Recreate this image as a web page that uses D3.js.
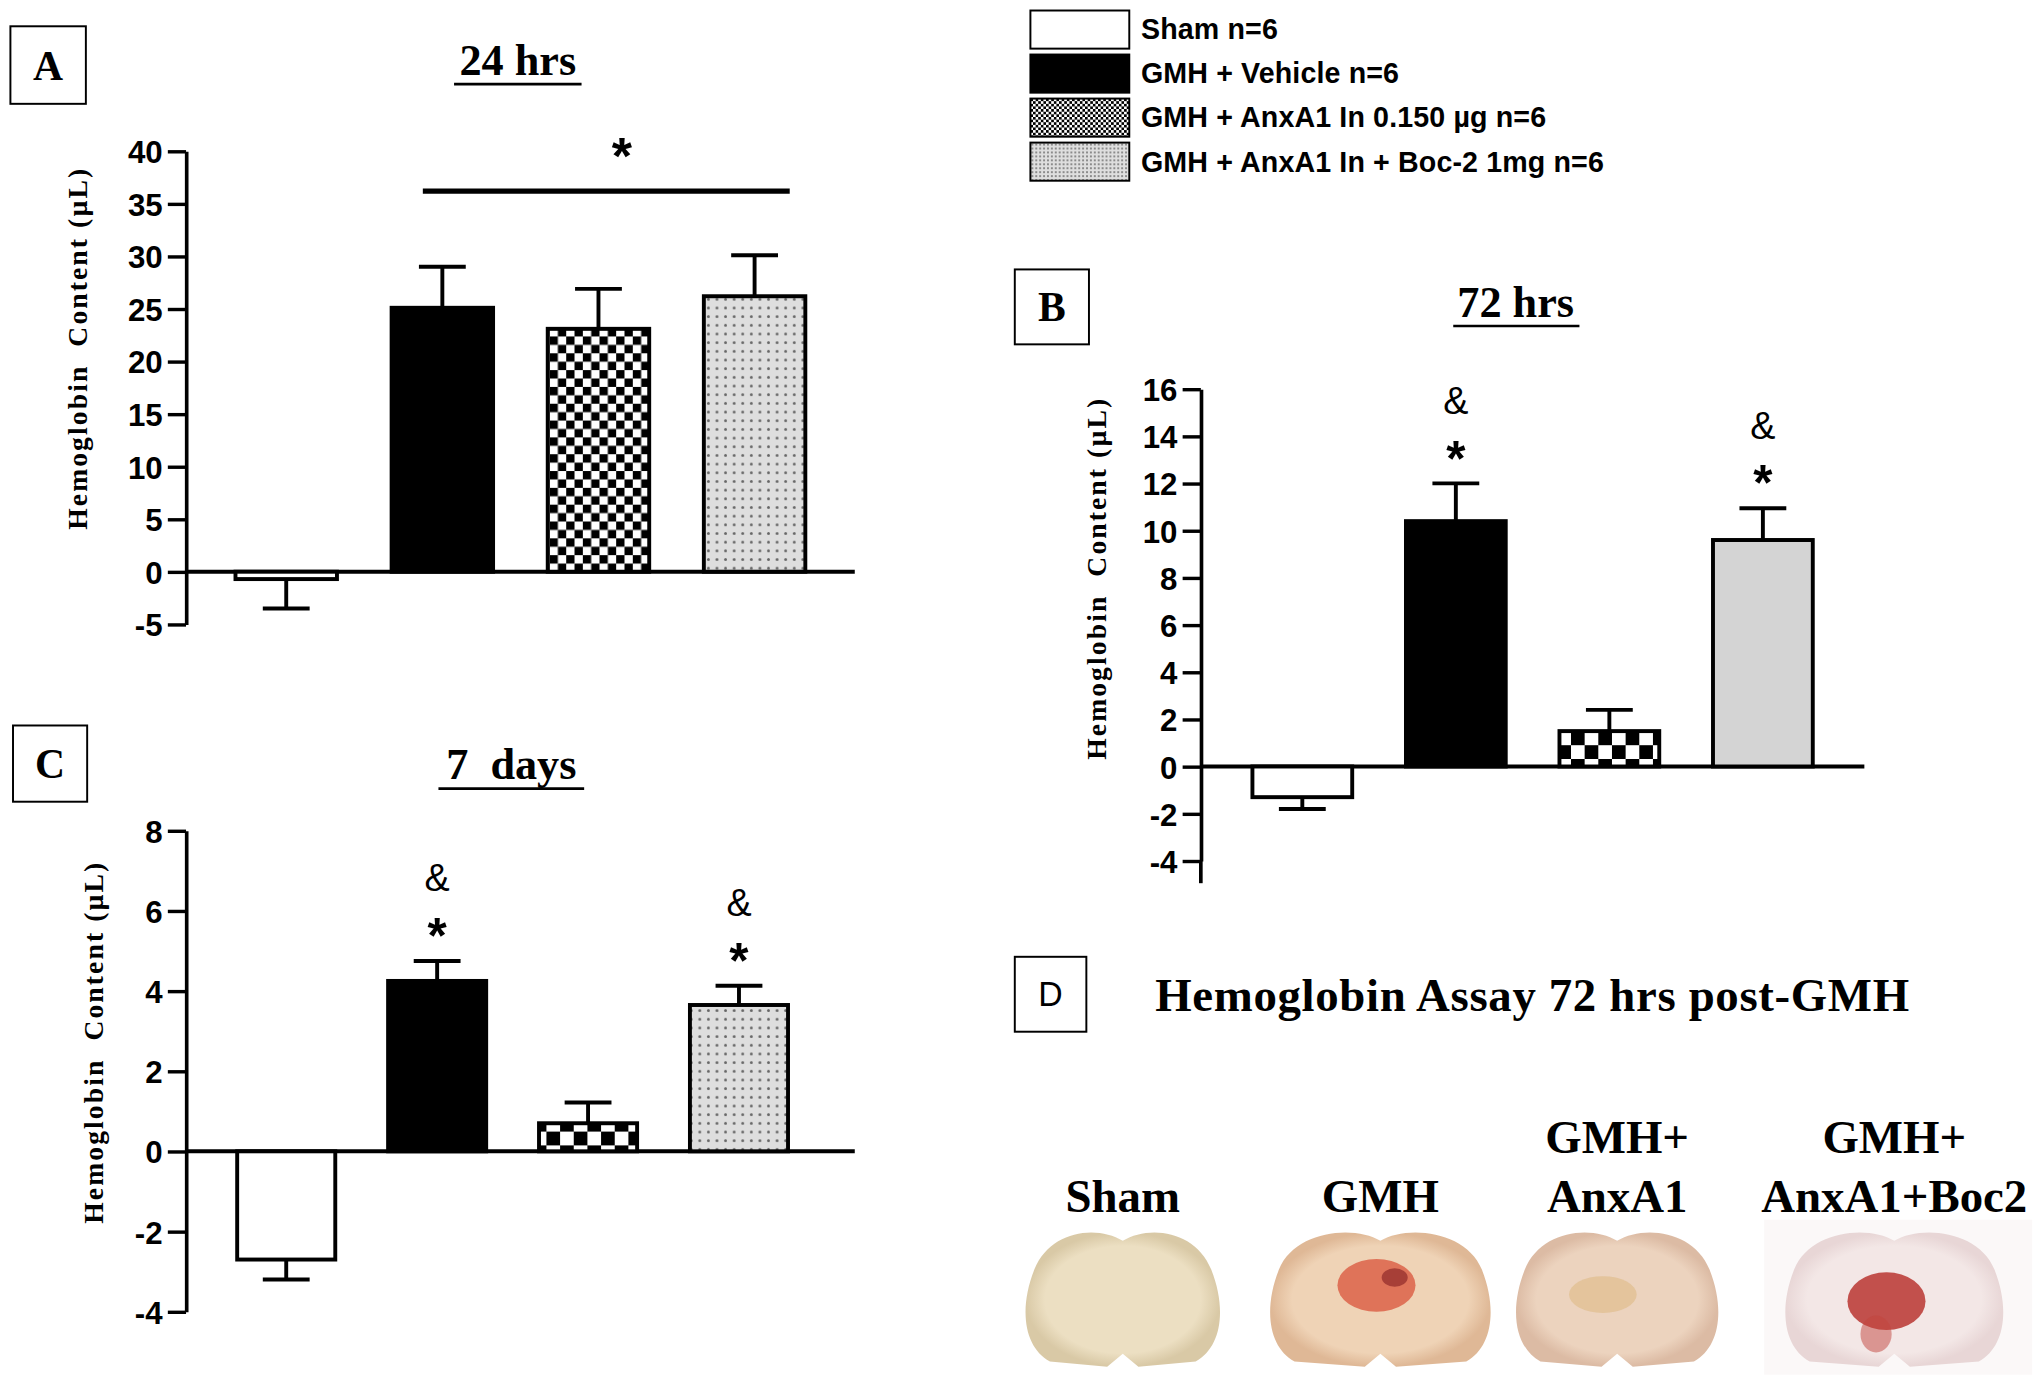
<!DOCTYPE html>
<html>
<head>
<meta charset="utf-8">
<script src="https://cdn.jsdelivr.net/npm/d3@7"></script>
<style>
  html, body { margin: 0; padding: 0; background: #fff; }
  svg { display: block; }
  .tick text { font-family: "Liberation Sans", Arial, sans-serif; font-weight: bold; font-size: 24px; fill: #000; }
  .serif { font-family: "Liberation Serif", "Times New Roman", serif; font-weight: bold; }
  .narrow { font-family: "Liberation Sans", Arial, sans-serif; font-weight: bold; }
</style>
</head>
<body>
<svg id="fig"></svg>
<script>
// groups and values (µL)
const groups = ['Sham', 'GMH + Vehicle', 'GMH + AnxA1 In 0.150 µg', 'GMH + AnxA1 In + Boc-2 1mg']
const legendLabels = ['Sham n=6', 'GMH + Vehicle n=6', 'GMH + AnxA1 In 0.150 µg n=6', 'GMH + AnxA1 In + Boc-2 1mg n=6']

const mean24h = [-0.7, 25.1, 23.1, 26.2]
const sem24h = [2.8, 3.9, 3.8, 3.9]
const ticks24h = [-5, 0, 5, 10, 15, 20, 25, 30, 35, 40]

const mean72h = [-1.3, 10.4, 1.5, 9.6]
const sem72h = [0.5, 1.6, 0.9, 1.35]
const marks72h = ['', '*&', '', '*&']
const ticks72h = [-4, -2, 0, 2, 4, 6, 8, 10, 12, 14, 16]

const mean7d = [-2.7, 4.25, 0.7, 3.65]
const sem7d = [0.5, 0.5, 0.52, 0.48]
const marks7d = ['', '*&', '', '*&']
const ticks7d = [-4, -2, 0, 2, 4, 6, 8]

const brainLabels = [['Sham'], ['GMH'], ['GMH+', 'AnxA1'], ['GMH+', 'AnxA1+Boc2']]

const W = 1568, H = 1050
const svg = d3.select('#fig')
  .attr('width', 2040)
  .attr('height', 1380)
  .attr('viewBox', `0 0 ${W} ${H}`)
  .attr('preserveAspectRatio', 'none')

// ---- fill patterns
const defs = svg.append('defs')

const checker = (id, cell) => {
  const p = defs.append('pattern').attr('id', id)
    .attr('patternUnits', 'userSpaceOnUse')
    .attr('width', cell * 2).attr('height', cell * 2)
  p.append('rect').attr('width', cell * 2).attr('height', cell * 2).attr('fill', '#fff')
  p.append('rect').attr('width', cell).attr('height', cell).attr('fill', '#000')
  p.append('rect').attr('x', cell).attr('y', cell).attr('width', cell).attr('height', cell).attr('fill', '#000')
}
checker('checkFine', 2)
checker('checkA', 6.4)
checker('checkBig', 10.5)

const dotted = (id, step, r) => {
  const p = defs.append('pattern').attr('id', id)
    .attr('patternUnits', 'userSpaceOnUse')
    .attr('width', step).attr('height', step)
  p.append('rect').attr('width', step).attr('height', step).attr('fill', '#dedede')
  p.append('circle').attr('cx', step / 2).attr('cy', step / 2).attr('r', r).attr('fill', '#666')
}
dotted('dots', 6.6, 1.1)
dotted('dotsFine', 3, 0.7)

// ---- helpers
const labelBox = (x, y, w, h, letter, serif) => {
  svg.append('rect')
    .attr('x', x).attr('y', y).attr('width', w).attr('height', h)
    .attr('fill', '#fff').attr('stroke', '#000').attr('stroke-width', 1.5)
  svg.append('text')
    .attr('class', serif ? 'serif' : '')
    .attr('x', x + w / 2).attr('y', y + h / 2 + (serif ? 11 : 9))
    .attr('text-anchor', 'middle')
    .style('font-family', serif ? null : '"Liberation Sans", Arial, sans-serif')
    .style('font-size', serif ? '32px' : '26px')
    .text(letter)
}

const title = (cx, y, txt, ulFrom, ulTo) => {
  svg.append('text')
    .attr('class', 'serif')
    .attr('x', cx).attr('y', y)
    .attr('text-anchor', 'middle')
    .style('font-size', '34px')
    .style('white-space', 'pre')
    .text(txt)
  svg.append('line')
    .attr('x1', ulFrom).attr('x2', ulTo).attr('y1', y + 7).attr('y2', y + 7)
    .attr('stroke', '#000').attr('stroke-width', 2)
}

function drawPanel(cfg) {
  const g = svg.append('g')

  const yscale = d3.scaleLinear()
    .domain(cfg.domain)
    .range(cfg.yRange)

  const xscale = d3.scaleBand()
    .domain(groups)
    .range(cfg.xRange)
    .paddingInner(0.35)
    .paddingOuter(0.175)

  // y axis
  const yAxis = d3.axisLeft(yscale)
    .tickValues(cfg.ticks)
    .tickSize(14)
    .tickSizeOuter(0)
    .tickPadding(4)
    .tickFormat((d) => String(d))
  const ax = g.append('g')
    .attr('transform', `translate(${cfg.axisX}, 0)`)
    .call(yAxis)
  ax.select('.domain').attr('stroke-width', 2.8)
  ax.selectAll('.tick line').attr('stroke-width', 2.6)
  ax.selectAll('.tick text').attr('dy', '0.36em')

  if (cfg.axisBottom) {
    g.append('line')
      .attr('x1', cfg.axisX).attr('x2', cfg.axisX)
      .attr('y1', yscale(cfg.domain[0])).attr('y2', cfg.axisBottom)
      .attr('stroke', '#000').attr('stroke-width', 2.8)
  }

  // y label
  g.append('text')
    .attr('class', 'serif')
    .attr('transform', `translate(${cfg.labelX}, ${cfg.labelY}) rotate(-90)`)
    .attr('text-anchor', 'middle')
    .style('font-size', '21px')
    .style('letter-spacing', '1.6px')
    .style('white-space', 'pre')
    .text('Hemoglobin  Content (µL)')

  const rows = groups.map((grp, i) => ({
    grp, i, mean: cfg.mean[i], sem: cfg.sem[i], fill: cfg.fills[i], mark: cfg.marks ? cfg.marks[i] : ''
  }))

  // error bars (drawn first so the bar edge covers the stem)
  const errEnd = (d) => d.mean >= 0 ? d.mean + d.sem : d.mean - d.sem
  const cx = (d) => xscale(d.grp) + xscale.bandwidth() / 2

  g.append('g').selectAll('line')
    .data(rows)
    .enter()
    .append('line')
    .attr('x1', cx).attr('x2', cx)
    .attr('y1', (d) => yscale(d.mean))
    .attr('y2', (d) => yscale(errEnd(d)))
    .attr('stroke', '#000').attr('stroke-width', 3)

  g.append('g').selectAll('line')
    .data(rows)
    .enter()
    .append('line')
    .attr('x1', (d) => cx(d) - 18).attr('x2', (d) => cx(d) + 18)
    .attr('y1', (d) => yscale(errEnd(d)))
    .attr('y2', (d) => yscale(errEnd(d)))
    .attr('stroke', '#000').attr('stroke-width', 3)

  // x axis line at zero
  g.append('line')
    .attr('x1', cfg.axisX).attr('x2', cfg.xEnd)
    .attr('y1', yscale(0)).attr('y2', yscale(0))
    .attr('stroke', '#000').attr('stroke-width', 3)

  // bars
  g.append('g').selectAll('rect')
    .data(rows)
    .enter()
    .append('rect')
    .attr('x', (d) => xscale(d.grp))
    .attr('width', xscale.bandwidth())
    .attr('y', (d) => yscale(Math.max(0, d.mean)))
    .attr('height', (d) => Math.abs(yscale(d.mean) - yscale(0)))
    .attr('fill', (d) => d.fill)
    .attr('stroke', '#000')
    .attr('stroke-width', 3)

  // significance marks
  const marked = rows.filter((d) => d.mark)
  g.append('g').selectAll('text')
    .data(marked)
    .enter()
    .append('text')
    .attr('x', cx)
    .attr('y', (d) => yscale(errEnd(d)) - 6)
    .attr('text-anchor', 'middle')
    .style('font-family', '"Liberation Sans", Arial, sans-serif')
    .style('font-weight', 'bold')
    .style('font-size', '38px')
    .text('*')
  g.append('g').selectAll('text')
    .data(marked)
    .enter()
    .append('text')
    .attr('x', cx)
    .attr('y', (d) => yscale(errEnd(d)) - 53)
    .attr('text-anchor', 'middle')
    .style('font-family', '"Liberation Sans", Arial, sans-serif')
    .style('font-size', '29px')
    .text('&')

  return { xscale, yscale }
}

// ---- Panel A: 24 hrs
labelBox(8, 20, 58, 59, 'A', true)
title(398, 57, '24 hrs', 349, 447)
const panelA = drawPanel({
  domain: [-5, 40], yRange: [475, 115], xRange: [160, 640],
  axisX: 143, xEnd: 657, ticks: ticks24h,
  mean: mean24h, sem: sem24h,
  fills: ['#fff', '#000', 'url(#checkA)', 'url(#dots)'],
  labelX: 67, labelY: 265
})
// bracket with star over the three GMH groups
const brY = panelA.yscale(36.2)
svg.append('line')
  .attr('x1', 325).attr('x2', 607).attr('y1', brY).attr('y2', brY)
  .attr('stroke', '#000').attr('stroke-width', 4)
svg.append('text')
  .attr('x', 478).attr('y', brY - 13)
  .attr('text-anchor', 'middle')
  .style('font-family', '"Liberation Sans", Arial, sans-serif')
  .style('font-weight', 'bold')
  .style('font-size', '40px')
  .text('*')

// ---- Panel B: 72 hrs
labelBox(780, 205, 57, 57, 'B', true)
title(1165, 241, '72 hrs', 1117, 1214)
drawPanel({
  domain: [-4, 16], yRange: [655, 296], xRange: [942, 1414],
  axisX: 923, xEnd: 1433, axisBottom: 672, ticks: ticks72h,
  mean: mean72h, sem: sem72h, marks: marks72h,
  fills: ['#fff', '#000', 'url(#checkBig)', '#d4d4d4'],
  labelX: 850, labelY: 440
})

// ---- Panel C: 7 days
labelBox(10, 552, 57, 58, 'C', true)
title(393, 593, '7  days', 337, 449)
drawPanel({
  domain: [-4, 8], yRange: [998, 632], xRange: [162, 626],
  axisX: 143, xEnd: 657, ticks: ticks7d,
  mean: mean7d, sem: sem7d, marks: marks7d,
  fills: ['#fff', '#000', 'url(#checkBig)', 'url(#dots)'],
  labelX: 79, labelY: 793
})

// ---- Legend
const legendFills = ['#fff', '#000', 'url(#checkFine)', 'url(#dotsFine)']
const legend = svg.append('g')
  .selectAll('g')
  .data(legendLabels)
  .enter()
  .append('g')
  .attr('transform', (d, i) => `translate(792, ${8 + i * 33.5})`)
legend.append('rect')
  .attr('width', 76).attr('height', 29)
  .attr('fill', (d, i) => legendFills[i])
  .attr('stroke', '#000').attr('stroke-width', 1.5)
legend.append('text')
  .attr('class', 'narrow')
  .attr('x', 85).attr('y', 22)
  .style('font-size', '22px')
  .style('letter-spacing', '0.1px')
  .text((d) => d)

// ---- Panel D: brain slices
labelBox(780, 728, 55, 57, 'D', false)
svg.append('text')
  .attr('class', 'serif')
  .attr('x', 888).attr('y', 769)
  .style('font-size', '36px')
  .style('letter-spacing', '0.5px')
  .text('Hemoglobin Assay 72 hrs post-GMH')

const brainCenters = [863, 1061, 1243, 1456]
const brainWidths = [152, 172, 158, 170]
const brainBase = ['#ecdfc2', '#efd3b6', '#ecd3be', '#f3e7e6']
const brainEdge = ['#d9c9a6', '#dfb896', '#dcbba4', '#e8d6d6']

brainLabels.forEach((lines, i) => {
  lines.forEach((ln, j) => {
    svg.append('text')
      .attr('class', 'serif')
      .attr('x', brainCenters[i])
      .attr('y', 922 - (lines.length - 1 - j) * 45)
      .attr('text-anchor', 'middle')
      .style('font-size', '36px')
      .text(ln)
  })
})

brainBase.forEach((c, i) => {
  const gr = defs.append('radialGradient').attr('id', 'brain' + i)
  gr.append('stop').attr('offset', '0%').attr('stop-color', c)
  gr.append('stop').attr('offset', '80%').attr('stop-color', c)
  gr.append('stop').attr('offset', '100%').attr('stop-color', brainEdge[i])
})

const brainPath = (cx, top, w, h) => {
  const l = cx - w / 2, r = cx + w / 2, b = top + h
  const p = d3.path()
  p.moveTo(cx, top + 8)
  p.bezierCurveTo(cx - 20, top - 4, l + 20, top, l + 8, top + 30)
  p.bezierCurveTo(l - 4, top + 60, l, b - 15, l + 20, b - 4)
  p.lineTo(cx - 12, b)
  p.lineTo(cx, b - 10)
  p.lineTo(cx + 12, b)
  p.lineTo(r - 20, b - 4)
  p.bezierCurveTo(r, b - 15, r + 4, top + 60, r - 8, top + 30)
  p.bezierCurveTo(r - 20, top, cx + 20, top - 4, cx, top + 8)
  p.closePath()
  return p.toString()
}

const brains = svg.append('g')
brainCenters.forEach((cx, i) => {
  if (i === 3) {
    brains.append('rect')
      .attr('x', cx - 100).attr('y', 928).attr('width', 206).attr('height', 118)
      .attr('fill', '#fbf8f8')
  }
  brains.append('path')
    .attr('d', brainPath(cx, 936, brainWidths[i], 104))
    .attr('fill', `url(#brain${i})`)
})
// haemorrhage spots
brains.append('ellipse').attr('cx', 1058).attr('cy', 978).attr('rx', 30).attr('ry', 20)
  .attr('fill', '#d9533a').attr('opacity', 0.75)
brains.append('ellipse').attr('cx', 1072).attr('cy', 972).attr('rx', 10).attr('ry', 7)
  .attr('fill', '#8e2a2a').attr('opacity', 0.7)
brains.append('ellipse').attr('cx', 1232).attr('cy', 985).attr('rx', 26).attr('ry', 14)
  .attr('fill', '#dcb57a').attr('opacity', 0.5)
brains.append('ellipse').attr('cx', 1450).attr('cy', 990).attr('rx', 30).attr('ry', 22)
  .attr('fill', '#b52a25').attr('opacity', 0.8)
brains.append('ellipse').attr('cx', 1442).attr('cy', 1015).attr('rx', 12).attr('ry', 14)
  .attr('fill', '#c1443c').attr('opacity', 0.5)
</script>
</body>
</html>
